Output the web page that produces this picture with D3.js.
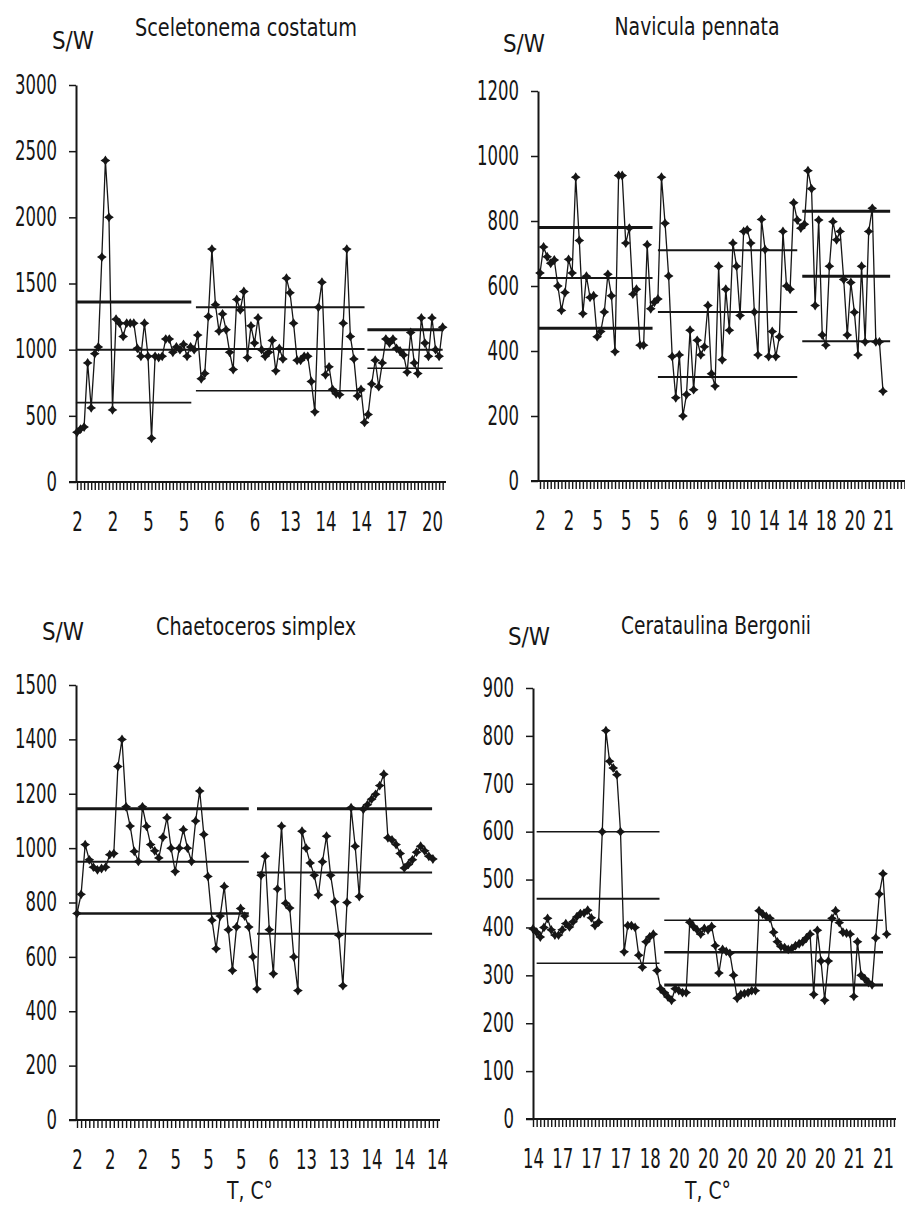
<!DOCTYPE html>
<html>
<head>
<meta charset="utf-8">
<script src="https://cdn.jsdelivr.net/npm/d3@7"></script>
<style>
  body { margin: 0; background: #fff; }
  svg text { font-family: "Liberation Sans Narrow", "DejaVu Sans Condensed", "Arial Narrow", sans-serif; fill: #161616; }
</style>
</head>
<body>
<svg id="chart" width="905" height="1205"></svg>
<script>
// ---- data ----
var sceletonemaValues = [376, 400, 415, 900, 560, 970, 1020, 1700, 2430, 2000, 545, 1230, 1200, 1100, 1200, 1200, 1200, 1010, 950, 1200,
  950, 330, 950, 940, 950, 1080, 1080, 980, 1020, 1000, 1040, 950, 1020, 1000, 1110, 780, 820, 1250, 1760, 1340,
  1140, 1270, 1150, 980, 850, 1380, 1300, 1440, 940, 1180, 1050, 1240, 1000, 950, 980, 1070, 840, 1010, 930, 1540,
  1430, 1200, 920, 920, 950, 950, 760, 530, 1320, 1510, 810, 870, 700, 666, 660, 1200, 1760, 1100, 930, 650,
  700, 450, 510, 740, 920, 720, 900, 1080, 1050, 1080, 1010, 990, 960, 830, 1130, 900, 820, 1240, 1050, 950,
  1240, 1000, 950, 1170];
var sceletonemaTemps = ["2", "2", "5", "5", "6", "6", "13", "14", "14", "17", "20"];
var sceletonemaGroups = [[-0.3, 32.2], [33.5, 81], [81.8, 103]];
var sceletonemaMeans = [[1360, 1000, 600], [1320, 1005, 690], [1150, 1000, 860]];
var sceletonemaTicks = [0, 500, 1000, 1500, 2000, 2500, 3000];

var naviculaValues = [640, 720, 690, 670, 680, 600, 525, 580, 682, 640, 935, 740, 515, 630, 565, 570, 444, 460, 520, 636,
  570, 398, 940, 940, 732, 778, 575, 590, 418, 418, 727, 530, 550, 560, 935, 793, 631, 383, 256, 388,
  200, 266, 464, 281, 433, 388, 413, 540, 330, 292, 661, 373, 590, 464, 732, 661, 509, 768, 773, 732,
  520, 388, 805, 712, 383, 460, 383, 444, 768, 600, 590, 856, 803, 778, 790, 955, 899, 540, 803, 449,
  418, 661, 798, 742, 768, 620, 449, 611, 519, 388, 661, 428, 768, 839, 428, 428, 276];
var naviculaTemps = ["2", "2", "5", "5", "5", "6", "9", "10", "14", "14", "18", "20", "21"];
var naviculaGroups = [[-0.5, 31.5], [33, 72], [73.4, 98]];
var naviculaMeans = [[780, 625, 470], [710, 520, 320], [830, 630, 430]];
var naviculaTicks = [0, 200, 400, 600, 800, 1000, 1200];

var chaetocerosValues = [760, 830, 1013, 957, 930, 920, 925, 930, 976, 980, 1300, 1400, 1152, 1081, 988, 951, 1152, 1080, 1013, 990,
  964, 1040, 1112, 1000, 914, 1000, 1068, 1000, 951, 1100, 1210, 1050, 896, 735, 630, 750, 859, 700, 550, 710,
  778, 750, 710, 600, 482, 900, 970, 700, 538, 850, 1081, 797, 780, 600, 476, 1062, 1000, 945, 900, 828,
  950, 1044, 900, 803, 680, 494, 800, 1149, 1007, 822, 1143, 1160, 1180, 1198, 1230, 1272, 1038, 1030, 1013, 980,
  927, 940, 957, 985, 1007, 990, 970, 960];
var chaetocerosTemps = ["2", "2", "2", "5", "5", "5", "6", "13", "13", "14", "14", "14"];
var chaetocerosGroups = [[0, 42], [44, 86.8]];
var chaetocerosMeans = [[1145, 950, 760], [1145, 910, 685]];
var chaetocerosTicks = [0, 200, 400, 600, 800, 1000, 1200, 1400, 1600];
var chaetocerosTickLabels = ["0", "200", "400", "600", "800", "1000", "1200", "1400", "1500"];

var cerataulinaValues = [397, 390, 380, 400, 419, 395, 384, 384, 395, 408, 401, 412, 422, 429, 430, 436, 420, 404, 411, 600,
  811, 747, 733, 719, 600, 349, 404, 404, 400, 342, 317, 370, 380, 386, 310, 272, 264, 255, 248, 272,
  268, 264, 264, 411, 402, 395, 386, 398, 395, 402, 362, 305, 354, 350, 346, 300, 252, 260, 262, 264,
  268, 268, 435, 428, 423, 419, 390, 370, 360, 358, 354, 356, 362, 366, 370, 378, 386, 260, 394, 330,
  248, 330, 419, 435, 410, 390, 388, 386, 256, 370, 300, 293, 285, 280, 378, 470, 512, 386];
var cerataulinaTemps = ["14", "17", "17", "17", "18", "20", "20", "20", "20", "20", "20", "21", "21"];
var cerataulinaGroups = [[1, 34.7], [36, 96]];
var cerataulinaMeans = [[600, 460, 325], [415, 348, 280]];
var cerataulinaTicks = [0, 100, 200, 300, 400, 500, 600, 700, 800, 900];

// ---- layout of the four panels ----
var panels = [
  { title: "Sceletonema costatum", values: sceletonemaValues, temps: sceletonemaTemps, labelStep: 10,
    groups: sceletonemaGroups, means: sceletonemaMeans, meanWidths: [[3, 2, 1.6], [2, 2, 1.6], [3, 2, 1.6]],
    yTicks: sceletonemaTicks, yLabels: sceletonemaTicks.map(String),
    axisX: 76, x0: 77, x1: 432, xEnd: 446, yBottom: 482, yTop: 85,
    titleX: 246, titleY: 36, titleW: 222, swX: 52, swY: 49, tc: false },
  { title: "Navicula pennata", values: naviculaValues, temps: naviculaTemps, labelStep: 8,
    groups: naviculaGroups, means: naviculaMeans, meanWidths: [[3, 2, 3], [2, 2, 2], [3, 3, 2]],
    yTicks: naviculaTicks, yLabels: naviculaTicks.map(String),
    axisX: 538, x0: 540, x1: 883, xEnd: 905, yBottom: 481, yTop: 91,
    titleX: 697, titleY: 35, titleW: 165, swX: 503, swY: 52, tc: false },
  { title: "Chaetoceros simplex", values: chaetocerosValues, temps: chaetocerosTemps, labelStep: 8,
    groups: chaetocerosGroups, means: chaetocerosMeans, meanWidths: [[3, 2, 2.5], [3, 2, 2]],
    yTicks: chaetocerosTicks, yLabels: chaetocerosTickLabels,
    axisX: 76, x0: 77, x1: 437, xEnd: 440, yBottom: 1120, yTop: 685,
    titleX: 256, titleY: 635, titleW: 200, swX: 42, swY: 640, tc: true, tcX: 250 },
  { title: "Cerataulina Bergonii", values: cerataulinaValues, temps: cerataulinaTemps, labelStep: 8,
    groups: cerataulinaGroups, means: cerataulinaMeans, meanWidths: [[1.5, 2, 1.5], [1.5, 2.5, 3]],
    yTicks: cerataulinaTicks, yLabels: cerataulinaTicks.map(String),
    axisX: 533, x0: 533, x1: 883, xEnd: 896, yBottom: 1119, yTop: 688,
    titleX: 716, titleY: 634, titleW: 190, swX: 508, swY: 645, tc: true, tcX: 708 }
];

var ink = "#161616";
var digitW = 10.5;   // width of one digit in the scanned figure
var svg = d3.select("#chart");

// four pointed star marker
var star4 = {
  draw: function(ctx, size) {
    var r = Math.sqrt(size), q = r * 0.4;
    ctx.moveTo(0, -r);
    ctx.lineTo(q, -q);
    ctx.lineTo(r, 0);
    ctx.lineTo(q, q);
    ctx.lineTo(0, r);
    ctx.lineTo(-q, q);
    ctx.lineTo(-r, 0);
    ctx.lineTo(-q, -q);
    ctx.closePath();
  }
};

// squeeze a text to a fixed width per character
function squeeze(sel) {
  sel.attr("textLength", function() { return this.textContent.length * digitW; })
    .attr("lengthAdjust", "spacingAndGlyphs");
}

function drawPanel(p) {
  var g = svg.append("g");

  var x = d3.scaleLinear()
    .domain([0, p.labelStep * (p.temps.length - 1)])
    .range([p.x0, p.x1]);
  var y = d3.scaleLinear()
    .domain([0, p.yTicks[p.yTicks.length - 1]])
    .range([p.yBottom, p.yTop]);

  // group mean lines
  p.groups.forEach(function(gr, i) {
    p.means[i].forEach(function(m, j) {
      g.append("line")
        .attr("x1", x(gr[0])).attr("x2", x(gr[1]))
        .attr("y1", y(m)).attr("y2", y(m))
        .attr("stroke", ink)
        .attr("stroke-width", p.meanWidths[i][j]);
    });
  });

  // the series
  var line = d3.line()
    .x(function(d, i) { return x(i); })
    .y(function(d) { return y(d); });

  g.append("path")
    .datum(p.values)
    .attr("d", line)
    .attr("fill", "none")
    .attr("stroke", ink)
    .attr("stroke-width", 1.3);

  g.selectAll("path.mark")
    .data(p.values)
    .enter()
      .append("path")
        .attr("class", "mark")
        .attr("d", d3.symbol().type(star4).size(24))
        .attr("transform", function(d, i) { return "translate(" + x(i) + "," + y(d) + ")"; })
        .attr("fill", ink);

  // y axis
  var yAxis = d3.axisLeft(y)
    .tickValues(p.yTicks)
    .tickSize(7)
    .tickSizeOuter(0)
    .tickFormat(function(d, i) { return p.yLabels[i]; });

  var ya = g.append("g")
    .attr("transform", "translate(" + p.axisX + ",0)")
    .call(yAxis);
  ya.select(".domain").attr("stroke", ink).attr("stroke-width", 2);
  ya.selectAll(".tick line").attr("stroke", ink).attr("stroke-width", 1.5);
  ya.selectAll("text")
    .attr("font-size", 26)
    .attr("x", -19)
    .style("fill", ink)
    .call(squeeze);

  // x axis: dense tick comb
  g.append("line")
    .attr("x1", p.axisX - 7).attr("x2", p.xEnd)
    .attr("y1", p.yBottom).attr("y2", p.yBottom)
    .attr("stroke", ink).attr("stroke-width", 2);

  var comb = d3.axisBottom(x)
    .tickValues(d3.range(0, Math.floor(x.invert(p.xEnd)) + 1))
    .tickSize(8)
    .tickSizeOuter(0)
    .tickFormat("");
  var xc = g.append("g")
    .attr("transform", "translate(0," + p.yBottom + ")")
    .call(comb);
  xc.select(".domain").remove();
  xc.selectAll(".tick line").attr("stroke", ink).attr("stroke-width", 1.4);

  // x axis: temperature labels
  var labelAxis = d3.axisBottom(x)
    .tickValues(p.temps.map(function(t, i) { return i * p.labelStep; }))
    .tickSize(0)
    .tickPadding(31)
    .tickFormat(function(d, i) { return p.temps[i]; });
  var xl = g.append("g")
    .attr("transform", "translate(0," + p.yBottom + ")")
    .call(labelAxis);
  xl.select(".domain").remove();
  xl.selectAll("text")
    .attr("font-size", 26)
    .style("fill", ink)
    .call(squeeze);

  // titles
  g.append("text")
    .attr("x", p.titleX).attr("y", p.titleY)
    .attr("text-anchor", "middle")
    .attr("font-size", 25)
    .attr("textLength", p.titleW)
    .attr("lengthAdjust", "spacingAndGlyphs")
    .text(p.title);

  g.append("text")
    .attr("x", p.swX).attr("y", p.swY)
    .attr("font-size", 25)
    .attr("textLength", 42)
    .attr("lengthAdjust", "spacingAndGlyphs")
    .text("S/W");

  if (p.tc) {
    g.append("text")
      .attr("x", p.tcX).attr("y", 1199)
      .attr("text-anchor", "middle")
      .attr("font-size", 24)
      .attr("textLength", 46)
      .attr("lengthAdjust", "spacingAndGlyphs")
      .text("T, C°");
  }
}

panels.forEach(drawPanel);
</script>
</body>
</html>
